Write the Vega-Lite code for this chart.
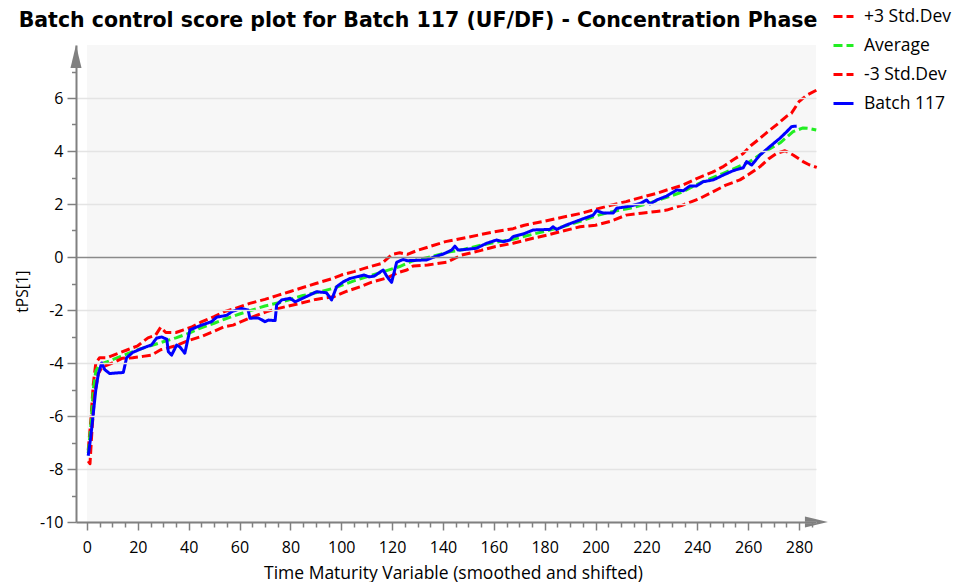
{
  "$schema": "https://vega.github.io/schema/vega-lite/v6.json",
  "width": 740,
  "height": 477,
  "autosize": {"type": "none"},
  "padding": {"left": 76, "top": 45, "right": 137, "bottom": 60},
  "background": "white",
  "config": {"view": {"stroke": null}, "font": "Open Sans"},
  "title": {"text": "Batch control score plot for Batch 117 (UF/DF) - Concentration Phase", "font": "DejaVu Sans", "fontSize": 20.5, "fontWeight": "bold", "color": "#000000", "anchor": "middle", "frame": "group", "dx": -28, "dy": 60, "baseline": "alphabetic", "offset": 18},
  "layer": [
    {
      "data": {"values": [{"x0": 0, "x1": 286.7, "y0": -10, "y1": 8}]},
      "mark": {"type": "rect", "fill": "#f7f7f7", "zindex": 0},
      "encoding": {
        "x": {"field": "x0", "type": "quantitative", "scale": {"domain": [-4.3, 286.7], "nice": false, "zero": false},
          "axis": {"orient": "bottom", "values": [0, 20, 40, 60, 80, 100, 120, 140, 160, 180, 200, 220, 240, 260, 280], "labelExpr": "'' + datum.value", "grid": false, "domainColor": "#808080", "domainWidth": 2, "tickColor": "#808080", "tickWidth": 1.5, "tickSize": 8, "labelFontSize": 16, "labelColor": "#000000", "labelPadding": 9, "labelFont": "Open Sans", "title": "Time Maturity Variable (smoothed and shifted)", "titleFont": "Open Sans", "titleFontSize": 17.5, "titleFontWeight": "normal", "titleColor": "#000000", "titlePadding": 9, "titleX": 377, "zindex": 1}},
        "x2": {"field": "x1"},
        "y": {"field": "y0", "type": "quantitative", "scale": {"domain": [-10, 8], "nice": false, "zero": false},
          "axis": {"orient": "left", "values": [-10, -8, -6, -4, -2, 0, 2, 4, 6], "labelExpr": "'' + datum.value", "grid": true, "gridColor": {"condition": {"test": "datum.value === 0", "value": "#8a8a8a"}, "value": "#e4e4e4"}, "gridWidth": 1.5, "domainColor": "#808080", "domainWidth": 2, "tickColor": "#808080", "tickWidth": 1.5, "tickSize": 9, "labelFontSize": 16, "labelColor": "#000000", "labelPadding": 4, "labelFont": "Open Sans", "title": "tPS[1]", "titleFont": "Open Sans", "titleFontSize": 15.5, "titleFontWeight": "normal", "titleColor": "#000000", "titlePadding": 9, "titleY": 246, "zindex": 1}},
        "y2": {"field": "y1"}
      }
    },
    {
      "data": {"values": [
        {"s": "+3 Std.Dev", "x": 0.5, "y": -7.3}, {"s": "+3 Std.Dev", "x": 1.5, "y": -6.2}, {"s": "+3 Std.Dev", "x": 2.5, "y": -4.8}, {"s": "+3 Std.Dev", "x": 3.5, "y": -4.0}, {"s": "+3 Std.Dev", "x": 5, "y": -3.8}, {"s": "+3 Std.Dev", "x": 8, "y": -3.8}, {"s": "+3 Std.Dev", "x": 12, "y": -3.65}, {"s": "+3 Std.Dev", "x": 16, "y": -3.5}, {"s": "+3 Std.Dev", "x": 20, "y": -3.35}, {"s": "+3 Std.Dev", "x": 24, "y": -3.05}, {"s": "+3 Std.Dev", "x": 27, "y": -2.95}, {"s": "+3 Std.Dev", "x": 29, "y": -2.65}, {"s": "+3 Std.Dev", "x": 31, "y": -2.85}, {"s": "+3 Std.Dev", "x": 35, "y": -2.85}, {"s": "+3 Std.Dev", "x": 38, "y": -2.75}, {"s": "+3 Std.Dev", "x": 41, "y": -2.65}, {"s": "+3 Std.Dev", "x": 45, "y": -2.45}, {"s": "+3 Std.Dev", "x": 50, "y": -2.25}, {"s": "+3 Std.Dev", "x": 54, "y": -2.06}, {"s": "+3 Std.Dev", "x": 58, "y": -1.95}, {"s": "+3 Std.Dev", "x": 64, "y": -1.75}, {"s": "+3 Std.Dev", "x": 70, "y": -1.6}, {"s": "+3 Std.Dev", "x": 75, "y": -1.45}, {"s": "+3 Std.Dev", "x": 80, "y": -1.3}, {"s": "+3 Std.Dev", "x": 84, "y": -1.18}, {"s": "+3 Std.Dev", "x": 90, "y": -1.0}, {"s": "+3 Std.Dev", "x": 97, "y": -0.8}, {"s": "+3 Std.Dev", "x": 100, "y": -0.68}, {"s": "+3 Std.Dev", "x": 105, "y": -0.55}, {"s": "+3 Std.Dev", "x": 110, "y": -0.4}, {"s": "+3 Std.Dev", "x": 116, "y": -0.24}, {"s": "+3 Std.Dev", "x": 120, "y": 0.1}, {"s": "+3 Std.Dev", "x": 123, "y": 0.16}, {"s": "+3 Std.Dev", "x": 126, "y": 0.1}, {"s": "+3 Std.Dev", "x": 130, "y": 0.25}, {"s": "+3 Std.Dev", "x": 135, "y": 0.4}, {"s": "+3 Std.Dev", "x": 141, "y": 0.58}, {"s": "+3 Std.Dev", "x": 145, "y": 0.65}, {"s": "+3 Std.Dev", "x": 150, "y": 0.75}, {"s": "+3 Std.Dev", "x": 155, "y": 0.85}, {"s": "+3 Std.Dev", "x": 160, "y": 0.95}, {"s": "+3 Std.Dev", "x": 167.6, "y": 1.07}, {"s": "+3 Std.Dev", "x": 172, "y": 1.2}, {"s": "+3 Std.Dev", "x": 180, "y": 1.35}, {"s": "+3 Std.Dev", "x": 187, "y": 1.5}, {"s": "+3 Std.Dev", "x": 194, "y": 1.64}, {"s": "+3 Std.Dev", "x": 200, "y": 1.8}, {"s": "+3 Std.Dev", "x": 206, "y": 1.95}, {"s": "+3 Std.Dev", "x": 212, "y": 2.09}, {"s": "+3 Std.Dev", "x": 218, "y": 2.25}, {"s": "+3 Std.Dev", "x": 224, "y": 2.4}, {"s": "+3 Std.Dev", "x": 228, "y": 2.53}, {"s": "+3 Std.Dev", "x": 234, "y": 2.7}, {"s": "+3 Std.Dev", "x": 240, "y": 2.97}, {"s": "+3 Std.Dev", "x": 246, "y": 3.2}, {"s": "+3 Std.Dev", "x": 250, "y": 3.4}, {"s": "+3 Std.Dev", "x": 254, "y": 3.66}, {"s": "+3 Std.Dev", "x": 258, "y": 3.9}, {"s": "+3 Std.Dev", "x": 261, "y": 4.2}, {"s": "+3 Std.Dev", "x": 264.7, "y": 4.48}, {"s": "+3 Std.Dev", "x": 268, "y": 4.75}, {"s": "+3 Std.Dev", "x": 272, "y": 5.05}, {"s": "+3 Std.Dev", "x": 275, "y": 5.3}, {"s": "+3 Std.Dev", "x": 277, "y": 5.42}, {"s": "+3 Std.Dev", "x": 280, "y": 5.86}, {"s": "+3 Std.Dev", "x": 283, "y": 6.1}, {"s": "+3 Std.Dev", "x": 287, "y": 6.3},
        {"s": "Average", "x": 0.5, "y": -7.4}, {"s": "Average", "x": 1.5, "y": -6.4}, {"s": "Average", "x": 2.5, "y": -5.0}, {"s": "Average", "x": 3.5, "y": -4.3}, {"s": "Average", "x": 5, "y": -4.05}, {"s": "Average", "x": 8, "y": -3.95}, {"s": "Average", "x": 12, "y": -3.8}, {"s": "Average", "x": 16, "y": -3.65}, {"s": "Average", "x": 20, "y": -3.5}, {"s": "Average", "x": 25, "y": -3.35}, {"s": "Average", "x": 30, "y": -3.2}, {"s": "Average", "x": 35, "y": -3.05}, {"s": "Average", "x": 40, "y": -2.88}, {"s": "Average", "x": 44.4, "y": -2.69}, {"s": "Average", "x": 50, "y": -2.5}, {"s": "Average", "x": 54, "y": -2.35}, {"s": "Average", "x": 60, "y": -2.15}, {"s": "Average", "x": 65, "y": -2.0}, {"s": "Average", "x": 70, "y": -1.85}, {"s": "Average", "x": 77, "y": -1.69}, {"s": "Average", "x": 85, "y": -1.45}, {"s": "Average", "x": 90, "y": -1.35}, {"s": "Average", "x": 97, "y": -1.18}, {"s": "Average", "x": 105, "y": -0.9}, {"s": "Average", "x": 110, "y": -0.75}, {"s": "Average", "x": 115, "y": -0.6}, {"s": "Average", "x": 123, "y": -0.36}, {"s": "Average", "x": 128, "y": -0.15}, {"s": "Average", "x": 135, "y": 0.0}, {"s": "Average", "x": 142.7, "y": 0.2}, {"s": "Average", "x": 147, "y": 0.26}, {"s": "Average", "x": 155, "y": 0.45}, {"s": "Average", "x": 167.6, "y": 0.67}, {"s": "Average", "x": 175, "y": 0.85}, {"s": "Average", "x": 187, "y": 1.14}, {"s": "Average", "x": 194, "y": 1.35}, {"s": "Average", "x": 200, "y": 1.55}, {"s": "Average", "x": 206, "y": 1.7}, {"s": "Average", "x": 213.5, "y": 1.84}, {"s": "Average", "x": 220, "y": 2.0}, {"s": "Average", "x": 228, "y": 2.25}, {"s": "Average", "x": 234, "y": 2.45}, {"s": "Average", "x": 241, "y": 2.79}, {"s": "Average", "x": 250, "y": 3.15}, {"s": "Average", "x": 256, "y": 3.4}, {"s": "Average", "x": 260.7, "y": 3.6}, {"s": "Average", "x": 266, "y": 3.95}, {"s": "Average", "x": 272.5, "y": 4.3}, {"s": "Average", "x": 277.7, "y": 4.73}, {"s": "Average", "x": 281.6, "y": 4.87}, {"s": "Average", "x": 284, "y": 4.85}, {"s": "Average", "x": 286.8, "y": 4.79},
        {"s": "-3 Std.Dev", "x": 0.5, "y": -7.7}, {"s": "-3 Std.Dev", "x": 1.2, "y": -7.8}, {"s": "-3 Std.Dev", "x": 2, "y": -6.5}, {"s": "-3 Std.Dev", "x": 3, "y": -5.2}, {"s": "-3 Std.Dev", "x": 4.5, "y": -4.4}, {"s": "-3 Std.Dev", "x": 6, "y": -4.15}, {"s": "-3 Std.Dev", "x": 10, "y": -4.0}, {"s": "-3 Std.Dev", "x": 14, "y": -3.82}, {"s": "-3 Std.Dev", "x": 18, "y": -3.8}, {"s": "-3 Std.Dev", "x": 22, "y": -3.75}, {"s": "-3 Std.Dev", "x": 25.4, "y": -3.7}, {"s": "-3 Std.Dev", "x": 29, "y": -3.5}, {"s": "-3 Std.Dev", "x": 34.6, "y": -3.36}, {"s": "-3 Std.Dev", "x": 40, "y": -3.15}, {"s": "-3 Std.Dev", "x": 45, "y": -3.0}, {"s": "-3 Std.Dev", "x": 50, "y": -2.8}, {"s": "-3 Std.Dev", "x": 54, "y": -2.63}, {"s": "-3 Std.Dev", "x": 57.5, "y": -2.57}, {"s": "-3 Std.Dev", "x": 64, "y": -2.3}, {"s": "-3 Std.Dev", "x": 70.7, "y": -2.06}, {"s": "-3 Std.Dev", "x": 77, "y": -1.9}, {"s": "-3 Std.Dev", "x": 83.8, "y": -1.75}, {"s": "-3 Std.Dev", "x": 90, "y": -1.6}, {"s": "-3 Std.Dev", "x": 97, "y": -1.5}, {"s": "-3 Std.Dev", "x": 102, "y": -1.3}, {"s": "-3 Std.Dev", "x": 107.5, "y": -1.12}, {"s": "-3 Std.Dev", "x": 112, "y": -0.95}, {"s": "-3 Std.Dev", "x": 118, "y": -0.79}, {"s": "-3 Std.Dev", "x": 122, "y": -0.6}, {"s": "-3 Std.Dev", "x": 125.8, "y": -0.49}, {"s": "-3 Std.Dev", "x": 128.3, "y": -0.34}, {"s": "-3 Std.Dev", "x": 134, "y": -0.3}, {"s": "-3 Std.Dev", "x": 141.4, "y": -0.2}, {"s": "-3 Std.Dev", "x": 147.3, "y": 0.07}, {"s": "-3 Std.Dev", "x": 155, "y": 0.25}, {"s": "-3 Std.Dev", "x": 160, "y": 0.38}, {"s": "-3 Std.Dev", "x": 167.6, "y": 0.52}, {"s": "-3 Std.Dev", "x": 175, "y": 0.7}, {"s": "-3 Std.Dev", "x": 182, "y": 0.85}, {"s": "-3 Std.Dev", "x": 188, "y": 1.0}, {"s": "-3 Std.Dev", "x": 193.9, "y": 1.14}, {"s": "-3 Std.Dev", "x": 200, "y": 1.2}, {"s": "-3 Std.Dev", "x": 206, "y": 1.35}, {"s": "-3 Std.Dev", "x": 212, "y": 1.58}, {"s": "-3 Std.Dev", "x": 218, "y": 1.65}, {"s": "-3 Std.Dev", "x": 224, "y": 1.72}, {"s": "-3 Std.Dev", "x": 228, "y": 1.77}, {"s": "-3 Std.Dev", "x": 234, "y": 1.95}, {"s": "-3 Std.Dev", "x": 241, "y": 2.21}, {"s": "-3 Std.Dev", "x": 246, "y": 2.45}, {"s": "-3 Std.Dev", "x": 251, "y": 2.7}, {"s": "-3 Std.Dev", "x": 256.8, "y": 2.91}, {"s": "-3 Std.Dev", "x": 260, "y": 3.1}, {"s": "-3 Std.Dev", "x": 264.7, "y": 3.41}, {"s": "-3 Std.Dev", "x": 268, "y": 3.7}, {"s": "-3 Std.Dev", "x": 271.2, "y": 3.91}, {"s": "-3 Std.Dev", "x": 274.5, "y": 4.01}, {"s": "-3 Std.Dev", "x": 277.7, "y": 3.85}, {"s": "-3 Std.Dev", "x": 281.6, "y": 3.6}, {"s": "-3 Std.Dev", "x": 284, "y": 3.48}, {"s": "-3 Std.Dev", "x": 287, "y": 3.38},
        {"s": "Batch 117", "x": 0.5, "y": -7.5}, {"s": "Batch 117", "x": 1.5, "y": -6.8}, {"s": "Batch 117", "x": 2.5, "y": -5.9}, {"s": "Batch 117", "x": 3.5, "y": -5.0}, {"s": "Batch 117", "x": 4.5, "y": -4.4}, {"s": "Batch 117", "x": 5.8, "y": -4.0}, {"s": "Batch 117", "x": 7, "y": -4.25}, {"s": "Batch 117", "x": 9, "y": -4.4}, {"s": "Batch 117", "x": 11, "y": -4.38}, {"s": "Batch 117", "x": 14.3, "y": -4.36}, {"s": "Batch 117", "x": 15.6, "y": -3.8}, {"s": "Batch 117", "x": 18, "y": -3.6}, {"s": "Batch 117", "x": 20.2, "y": -3.51}, {"s": "Batch 117", "x": 23, "y": -3.4}, {"s": "Batch 117", "x": 25.4, "y": -3.32}, {"s": "Batch 117", "x": 27.4, "y": -3.06}, {"s": "Batch 117", "x": 29.4, "y": -3.02}, {"s": "Batch 117", "x": 31.4, "y": -3.1}, {"s": "Batch 117", "x": 32, "y": -3.57}, {"s": "Batch 117", "x": 33.3, "y": -3.7}, {"s": "Batch 117", "x": 35.3, "y": -3.32}, {"s": "Batch 117", "x": 36.6, "y": -3.4}, {"s": "Batch 117", "x": 38.5, "y": -3.63}, {"s": "Batch 117", "x": 40.5, "y": -2.75}, {"s": "Batch 117", "x": 43, "y": -2.65}, {"s": "Batch 117", "x": 45.1, "y": -2.57}, {"s": "Batch 117", "x": 49, "y": -2.44}, {"s": "Batch 117", "x": 51, "y": -2.27}, {"s": "Batch 117", "x": 52.3, "y": -2.25}, {"s": "Batch 117", "x": 55, "y": -2.2}, {"s": "Batch 117", "x": 57, "y": -2.06}, {"s": "Batch 117", "x": 60.8, "y": -1.94}, {"s": "Batch 117", "x": 63.4, "y": -2.0}, {"s": "Batch 117", "x": 64.1, "y": -2.31}, {"s": "Batch 117", "x": 67.4, "y": -2.3}, {"s": "Batch 117", "x": 70, "y": -2.44}, {"s": "Batch 117", "x": 71.4, "y": -2.38}, {"s": "Batch 117", "x": 74, "y": -2.4}, {"s": "Batch 117", "x": 74.6, "y": -1.81}, {"s": "Batch 117", "x": 76.6, "y": -1.62}, {"s": "Batch 117", "x": 79.9, "y": -1.56}, {"s": "Batch 117", "x": 81.9, "y": -1.69}, {"s": "Batch 117", "x": 85, "y": -1.55}, {"s": "Batch 117", "x": 87.7, "y": -1.43}, {"s": "Batch 117", "x": 90.3, "y": -1.31}, {"s": "Batch 117", "x": 94.2, "y": -1.35}, {"s": "Batch 117", "x": 96.2, "y": -1.62}, {"s": "Batch 117", "x": 98.2, "y": -1.12}, {"s": "Batch 117", "x": 100.9, "y": -0.93}, {"s": "Batch 117", "x": 103.5, "y": -0.81}, {"s": "Batch 117", "x": 106, "y": -0.75}, {"s": "Batch 117", "x": 109, "y": -0.68}, {"s": "Batch 117", "x": 111, "y": -0.75}, {"s": "Batch 117", "x": 113, "y": -0.72}, {"s": "Batch 117", "x": 116.5, "y": -0.49}, {"s": "Batch 117", "x": 118, "y": -0.74}, {"s": "Batch 117", "x": 119.8, "y": -0.96}, {"s": "Batch 117", "x": 121.8, "y": -0.2}, {"s": "Batch 117", "x": 124.4, "y": -0.09}, {"s": "Batch 117", "x": 126, "y": -0.14}, {"s": "Batch 117", "x": 133.6, "y": -0.11}, {"s": "Batch 117", "x": 136.2, "y": -0.01}, {"s": "Batch 117", "x": 140.1, "y": 0.11}, {"s": "Batch 117", "x": 143.4, "y": 0.26}, {"s": "Batch 117", "x": 144.7, "y": 0.41}, {"s": "Batch 117", "x": 146, "y": 0.26}, {"s": "Batch 117", "x": 149.3, "y": 0.29}, {"s": "Batch 117", "x": 153.2, "y": 0.33}, {"s": "Batch 117", "x": 157.2, "y": 0.52}, {"s": "Batch 117", "x": 161.1, "y": 0.64}, {"s": "Batch 117", "x": 163.7, "y": 0.58}, {"s": "Batch 117", "x": 166.3, "y": 0.64}, {"s": "Batch 117", "x": 167.6, "y": 0.77}, {"s": "Batch 117", "x": 171.6, "y": 0.87}, {"s": "Batch 117", "x": 175.5, "y": 1.02}, {"s": "Batch 117", "x": 182, "y": 1.04}, {"s": "Batch 117", "x": 183.3, "y": 1.14}, {"s": "Batch 117", "x": 184.7, "y": 1.04}, {"s": "Batch 117", "x": 188.6, "y": 1.21}, {"s": "Batch 117", "x": 193.9, "y": 1.4}, {"s": "Batch 117", "x": 199.1, "y": 1.58}, {"s": "Batch 117", "x": 200.4, "y": 1.75}, {"s": "Batch 117", "x": 203, "y": 1.66}, {"s": "Batch 117", "x": 207, "y": 1.66}, {"s": "Batch 117", "x": 208.3, "y": 1.84}, {"s": "Batch 117", "x": 213.5, "y": 1.92}, {"s": "Batch 117", "x": 217.5, "y": 2.02}, {"s": "Batch 117", "x": 220.1, "y": 2.15}, {"s": "Batch 117", "x": 221.4, "y": 2.0}, {"s": "Batch 117", "x": 224, "y": 2.15}, {"s": "Batch 117", "x": 228, "y": 2.3}, {"s": "Batch 117", "x": 231.9, "y": 2.53}, {"s": "Batch 117", "x": 234.5, "y": 2.5}, {"s": "Batch 117", "x": 237.1, "y": 2.68}, {"s": "Batch 117", "x": 239.7, "y": 2.68}, {"s": "Batch 117", "x": 242.3, "y": 2.84}, {"s": "Batch 117", "x": 246.3, "y": 2.91}, {"s": "Batch 117", "x": 250.2, "y": 3.09}, {"s": "Batch 117", "x": 254.2, "y": 3.26}, {"s": "Batch 117", "x": 258.1, "y": 3.37}, {"s": "Batch 117", "x": 259.4, "y": 3.6}, {"s": "Batch 117", "x": 261.4, "y": 3.47}, {"s": "Batch 117", "x": 264.7, "y": 3.85}, {"s": "Batch 117", "x": 268.6, "y": 4.17}, {"s": "Batch 117", "x": 272.5, "y": 4.48}, {"s": "Batch 117", "x": 275.2, "y": 4.73}, {"s": "Batch 117", "x": 277.1, "y": 4.92}, {"s": "Batch 117", "x": 279.1, "y": 4.94}
      ]},
      "mark": {"type": "line", "strokeWidth": 3, "zindex": 2, "strokeJoin": "round"},
      "encoding": {
        "x": {"field": "x", "type": "quantitative", "scale": {"domain": [-4.3, 286.7], "nice": false, "zero": false},
          "axis": {"orient": "bottom", "values": [5, 10, 15, 25, 30, 35, 45, 50, 55, 65, 70, 75, 85, 90, 95, 105, 110, 115, 125, 130, 135, 145, 150, 155, 165, 170, 175, 185, 190, 195, 205, 210, 215, 225, 230, 235, 245, 250, 255, 265, 270, 275, 285], "labels": false, "domain": false, "grid": false, "tickColor": "#808080", "tickWidth": 1.5, "tickSize": 5, "title": null, "zindex": 1}},
        "y": {"field": "y", "type": "quantitative", "scale": {"domain": [-10, 8], "nice": false, "zero": false},
          "axis": {"orient": "left", "values": [-9, -7, -5, -3, -1, 1, 3, 5, 7], "labels": false, "domain": false, "grid": false, "tickColor": "#808080", "tickWidth": 1.5, "tickSize": 4.5, "title": null, "zindex": 1}},
        "color": {"field": "s", "type": "nominal", "sort": null,
          "scale": {"domain": ["+3 Std.Dev", "Average", "-3 Std.Dev", "Batch 117"], "range": ["#ff0000", "#22ee22", "#ff0000", "#0000ff"]},
          "legend": {"title": null, "orient": "none", "legendX": 756, "legendY": -40, "symbolType": "stroke", "symbolSize": 400, "symbolStrokeWidth": 3, "labelFontSize": 17.5, "labelFont": "Open Sans", "labelColor": "#000000", "labelOffset": 9, "rowPadding": 9, "padding": 0}},
        "strokeDash": {"field": "s", "type": "nominal", "sort": null,
          "scale": {"domain": ["+3 Std.Dev", "Average", "-3 Std.Dev", "Batch 117"], "range": [[9, 4], [9, 4], [9, 4], [1, 0]]}}
      }
    },
    {
      "data": {"values": [{"ax": 291.4, "ay": -10, "dir": "right"}, {"ax": -4.3, "ay": 8, "dir": "up"}]},
      "mark": {"type": "point", "filled": true, "size": 529, "color": "#808080", "opacity": 1, "zindex": 3},
      "encoding": {
        "x": {"field": "ax", "type": "quantitative", "scale": {"domain": [-4.3, 286.7], "nice": false, "zero": false}, "axis": null},
        "y": {"field": "ay", "type": "quantitative", "scale": {"domain": [-10, 8], "nice": false, "zero": false}, "axis": null},
        "shape": {"field": "dir", "type": "nominal", "scale": {"domain": ["right", "up"], "range": ["M0,0 L-2,-0.48 L-2,0.48 Z", "M0,0 L0.48,2 L-0.48,2 Z"]}, "legend": null}
      }
    }
  ],
  "resolve": {"axis": {"x": "independent", "y": "independent"}}
}
